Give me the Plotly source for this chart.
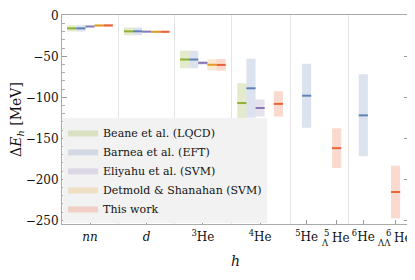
import plotly.graph_objects as go

# ---- data (binding energies, MeV; central value and symmetric uncertainty) ----
nuclei = ["nn", "d", "3He", "4He", "5He", "5LHe", "6He", "6LLHe"]
tick_labels = ["<i>nn</i>", "<i>d</i>", "<sup>3</sup>He", "<sup>4</sup>He",
               "<sup>5</sup>He", "", "<sup>6</sup>He", ""]
# hypernuclei: (index, mass number, hyperon subscript) drawn as stacked prescripts
hyper_labels = [(5, "5", "Λ"), (7, "6", "ΛΛ")]

methods = ["Beane et al. (LQCD)", "Barnea et al. (EFT)", "Eliyahu et al. (SVM)",
           "Detmold & Shanahan (SVM)", "This work"]

beane_val = [-15.9, -19.5, -53.9, -107.0, None, None, None, None]
beane_err = [3.8, 4.8, 10.7, 24.2, None, None, None, None]

barnea_val = [-15.9, -19.5, -53.9, -89.0, -98.0, None, -122.0, None]
barnea_err = [3.8, 4.8, 10.7, 36.0, 39.0, None, 50.0, None]

eliyahu_val = [-13.6, -19.9, -58.0, -113.0, None, None, None, None]
eliyahu_err = [0.5, 0.6, 2.2, 10.3, None, None, None, None]

detmold_val = [-12.4, -20.1, -60.3, None, None, None, None, None]
detmold_err = [1.6, 1.2, 6.8, None, None, None, None, None]

this_val = [-12.3, -20.1, -60.5, -108.0, None, -162.0, None, -215.5]
this_err = [1.8, 1.3, 7.2, 15.3, None, 24.3, None, 32.0]

values = [beane_val, barnea_val, eliyahu_val, detmold_val, this_val]
errors = [beane_err, barnea_err, eliyahu_err, detmold_err, this_err]

# ---- layout / style constants ----
positions = [0.0, 1.0, 1.99, 3.0, 3.82, 4.35, 4.82, 5.39]
separators = [0.5, 1.49, 2.5, 3.54, 4.56]
label_nudge = {5: -3, 7: 0}   # pixel nudges of the hypernucleus labels
step = 0.161
colors = ["#8FB032", "#5E81B5", "#8778B3", "#E19C24", "#EB6235"]
fills = ["rgba(143,176,50,0.25)", "rgba(94,129,181,0.22)", "rgba(135,120,179,0.22)",
         "rgba(225,156,36,0.22)", "rgba(235,98,53,0.24)"]
FONT = "DejaVu Serif"

fig = go.Figure()
n_entries = [sum(1 for v in values if v[i] is not None) for i in range(len(nuclei))]

for k, name in enumerate(methods):
    bx, by, lx, ly = [], [], [], []
    for i, v in enumerate(values[k]):
        if v is None:
            continue
        e = errors[k][i]
        c = positions[i] + ((k - 2) * step if n_entries[i] > 1 else 0.0)
        x0, x1 = c - step / 2, c + step / 2
        bx += [x0, x1, x1, x0, x0, None]
        by += [v - e, v - e, v + e, v + e, v - e, None]
        lx += [x0, x1, None]
        ly += [v, v, None]
    fig.add_trace(go.Scatter(x=bx, y=by, mode="lines", fill="toself",
                             fillcolor=fills[k], line=dict(width=0, color=fills[k]),
                             name=name, hoverinfo="skip"))
    fig.add_trace(go.Scatter(x=lx, y=ly, mode="lines",
                             line=dict(width=2, color=colors[k]),
                             showlegend=False, hoverinfo="skip"))

# stacked prescript labels for the hypernuclei
for idx, mass, hyp in hyper_labels:
    px = positions[idx]
    nd = label_nudge[idx]
    fig.add_annotation(x=px, xref="x", y=0, yref="paper", text="He", showarrow=False,
                       xanchor="left", yanchor="middle", xshift=-4 + nd, yshift=-14,
                       font=dict(size=12, family=FONT, color="#111"))
    fig.add_annotation(x=px, xref="x", y=0, yref="paper", text=mass, showarrow=False,
                       xanchor="right", yanchor="middle", xshift=-3 + nd, yshift=-9,
                       font=dict(size=8.5, family=FONT, color="#111"))
    fig.add_annotation(x=px, xref="x", y=0, yref="paper", text=hyp, showarrow=False,
                       xanchor="right", yanchor="middle", xshift=-3 + nd, yshift=-19,
                       font=dict(size=8.5, family=FONT, color="#111"))

# the page body adds an 8px offset, so the figure is 8px smaller than the window
fig.update_layout(
    width=407, height=272,
    margin=dict(l=54, r=6, t=7, b=56),
    paper_bgcolor="white", plot_bgcolor="white",
    font=dict(family=FONT, size=12, color="#111"),
    showlegend=True,
    legend=dict(x=0.003, y=0.005, xanchor="left", yanchor="bottom",
                bgcolor="#f2f2f2", borderwidth=0, font=dict(size=11, family=FONT),
                itemwidth=30, tracegroupgap=0),
    xaxis=dict(range=[-0.494, 5.626], tickmode="array", tickvals=positions,
               ticktext=tick_labels, ticks="inside", ticklen=4, tickcolor="#999",
               showline=True, linecolor="#aaa", linewidth=1, mirror=True,
               showgrid=False, zeroline=False, tickangle=0, ticklabelstandoff=2,
               automargin=False,
               minor=dict(tickmode="array", tickvals=separators, showgrid=True,
                          gridcolor="#e4e4e4", gridwidth=1, ticks=""),
               title=dict(text="<i>h</i>", standoff=12, font=dict(size=14)),
               tickfont=dict(size=12)),
    yaxis=dict(range=[-254.5, 0.4], tickmode="linear", tick0=0, dtick=50,
               ticks="inside", ticklen=5, tickcolor="#999",
               showline=True, linecolor="#aaa", linewidth=1, mirror="allticks",
               showgrid=False, zeroline=False, automargin=False,
               ticklabeloverflow="allow",
               minor=dict(dtick=10, ticks="inside", ticklen=2.5, tickcolor="#aaa"),
               title=dict(text="Δ<i>E</i><sub><i>h</i></sub> [MeV]", standoff=5,
                          font=dict(size=14)),
               tickfont=dict(size=12)),
)

fig.write_html("out.html")
